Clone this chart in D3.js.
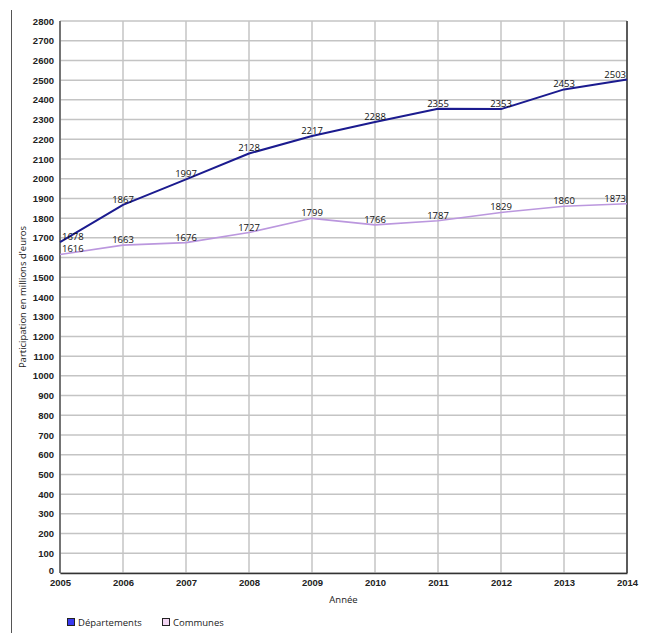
<!DOCTYPE html>
<html>
<head>
<meta charset="utf-8">
<script src="https://cdn.jsdelivr.net/npm/d3@7"></script>
<style>
  html, body { margin: 0; padding: 0; background: #fff; }
  svg { display: block; font-family: "Open Sans", "Noto Sans", sans-serif; }
</style>
</head>
<body>
<svg id="chart" width="662" height="633"></svg>
<script>
// Participation (millions d'euros) par année
const years = [2005, 2006, 2007, 2008, 2009, 2010, 2011, 2012, 2013, 2014];
const departements = [1678, 1867, 1997, 2128, 2217, 2288, 2355, 2353, 2453, 2503];
const communes = [1616, 1663, 1676, 1727, 1799, 1766, 1787, 1829, 1860, 1873];
const yTicks = d3.range(0, 2801, 100);
const seriesNames = ["Départements", "Communes"];

const svg = d3.select("#chart");
const margin = { left: 60, right: 35, top: 21, bottom: 60 };
const W = 662, H = 633;
const x = d3.scaleLinear().domain([2005, 2014]).range([margin.left, W - margin.right]);
const y = d3.scaleLinear().domain([0, 2800]).range([H - margin.bottom, margin.top]);

// left page rule
svg.append("line").attr("x1", 11.5).attr("x2", 11.5).attr("y1", 10).attr("y2", H)
  .attr("stroke", "#555").attr("stroke-width", 1);

// grid
const grid = svg.append("g");
grid.selectAll("line.h").data(yTicks).join("line")
  .attr("x1", x(2005)).attr("x2", x(2014))
  .attr("y1", d => y(d)).attr("y2", d => y(d))
  .attr("stroke", "#c4c4c4").attr("stroke-width", 1.5);
grid.selectAll("line.v").data(years).join("line")
  .attr("y1", y(0)).attr("y2", y(2800))
  .attr("x1", d => x(d)).attr("x2", d => x(d))
  .attr("stroke", "#c4c4c4").attr("stroke-width", 1.5);

// frame
svg.append("line").attr("x1", x(2014)).attr("x2", x(2014)).attr("y1", y(2800)).attr("y2", y(0))
  .attr("stroke", "#333").attr("stroke-width", 1.5);
svg.append("line").attr("x1", x(2005)).attr("x2", x(2005)).attr("y1", y(2800)).attr("y2", y(0))
  .attr("stroke", "#555").attr("stroke-width", 1.5);

// axes
const yAxis = svg.append("g").attr("transform", `translate(${x(2005)},0)`)
  .call(d3.axisLeft(y).tickValues(yTicks).tickSize(0).tickPadding(6).tickFormat(d3.format("d")));
yAxis.select(".domain").remove();
yAxis.selectAll("text").attr("font-size", 9.5).attr("fill", "#222").attr("font-weight", 600);
yAxis.selectAll(".tick").filter(d => d === 0).select("text").attr("dy", "0.05em");

const xAxis = svg.append("g").attr("transform", `translate(0,${y(0)})`)
  .call(d3.axisBottom(x).tickValues(years).tickSize(0).tickPadding(6).tickFormat(d3.format("d")));
xAxis.select(".domain").attr("stroke", "#333").attr("stroke-width", 1.5);
xAxis.selectAll("text").attr("font-size", 9.5).attr("fill", "#222").attr("font-weight", 600);

// axis titles
svg.append("text").attr("x", (x(2005) + x(2014)) / 2).attr("y", 603)
  .attr("text-anchor", "middle").attr("font-size", 9.5).attr("fill", "#222").text("Année");
svg.append("text")
  .attr("transform", `translate(26,${(y(0) + y(2800)) / 2}) rotate(-90)`)
  .attr("text-anchor", "middle").attr("font-size", 9.5).attr("fill", "#222")
  .text("Participation en millions d'euros");

// series
const series = [
  { name: seriesNames[0], values: departements, line: "#1b1b8f", width: 2, swatch: "#3a3af0" },
  { name: seriesNames[1], values: communes, line: "#bb97de", width: 1.6, swatch: "#f3d6f3" }
];
const lineGen = d3.line().x((d, i) => x(years[i])).y(d => y(d));

series.forEach(s => {
  svg.append("path").datum(s.values).attr("d", lineGen)
    .attr("fill", "none").attr("stroke", s.line).attr("stroke-width", s.width)
    .attr("stroke-linejoin", "round");
  svg.append("g").selectAll("text").data(s.values).join("text")
    .attr("x", (d, i) => i === 0 ? x(years[i]) + 2 : i === years.length - 1 ? x(years[i]) - 1 : x(years[i]))
    .attr("y", d => y(d) - 2)
    .attr("text-anchor", (d, i) => i === 0 ? "start" : i === years.length - 1 ? "end" : "middle")
    .attr("font-size", 9.5).attr("fill", "#111")
    .text(d => d);
});

// legend
const legend = svg.append("g").attr("transform", "translate(67,618)");
const legendX = [0, 95];
series.forEach((s, i) => {
  const g = legend.append("g").attr("transform", `translate(${legendX[i]},0)`);
  g.append("rect").attr("x", 0.5).attr("y", 0.5).attr("width", 7).attr("height", 7)
    .attr("fill", s.swatch).attr("stroke", "#222").attr("stroke-width", 1);
  g.append("text").attr("x", 11).attr("y", 7.5).attr("font-size", 9.5).attr("fill", "#222").text(s.name);
});
</script>
</body>
</html>
